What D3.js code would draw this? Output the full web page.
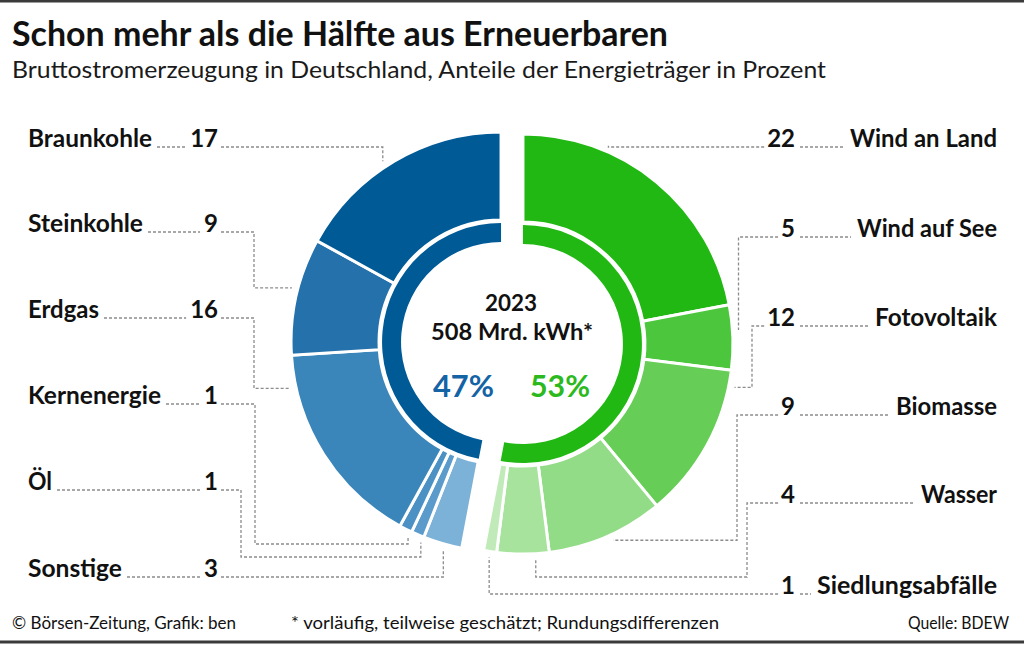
<!DOCTYPE html>
<html><head><meta charset="utf-8">
<script src="https://cdn.jsdelivr.net/npm/d3@7"></script>
<style>
body{margin:0;background:#fff}
svg{display:block}
text{font-family:Lato,"Open Sans",sans-serif;fill:#111}
</style>
</head><body>
<svg id="chart" width="1024" height="646"></svg>
<script>
// ---------------- DATA ----------------
const renewCategories = ["Wind an Land","Wind auf See","Fotovoltaik","Biomasse","Wasser","Siedlungsabfälle"];
const renewValues     = [22, 5, 12, 9, 4, 1];
const fossilCategories = ["Braunkohle","Steinkohle","Erdgas","Kernenergie","Öl","Sonstige"];
const fossilValues     = [17, 9, 16, 1, 1, 3];
const groupLabels = ["53%", "47%"];          // renewables, fossil
const groupShares = [53, 47];
const centerLines = ["2023", "508 Mrd. kWh*"];
const titleText = "Schon mehr als die Hälfte aus Erneuerbaren";
const subtitleText = "Bruttostromerzeugung in Deutschland, Anteile der Energieträger in Prozent";
const footerTexts = ["© Börsen-Zeitung, Grafik: ben", "* vorläufig, teilweise geschätzt; Rundungsdifferenzen", "Quelle: BDEW"];

// ---------------- STYLE / LAYOUT ----------------
const renewColors  = ["#22b814","#4cc63d","#66cd57","#92dc87","#a8e39e","#c0eab7"];
const fossilColors = ["#005a96","#2471ab","#3a86ba","#4b91c4","#5b9bcb","#7db2d8"];
const groupRingColors = ["#22b814","#005a96"];
const groupTextColors = ["#2cb91d","#1463a5"];

const cx = 512, cy = 343, explode = 11;
const rOuter = 210, rOuterIn = 122, rRingOut = 119, rRingIn = 100, rAnchor = 216;

// rows (baselines) and leader routing, top to bottom
const leftRowsY  = [147, 232, 318, 404, 490, 577];
const rightRowsY = [147, 237, 326, 415, 503, 594];
const leftNameW  = [124, 115, 71, 133, 24, 94];
const rightNameW = [147, 140, 122, 101, 76, 180];
// anchor angle (deg), turnX (null = anchor x), elbowY (null = anchor y)
const fossilLeaders = [
  {a:326.8, tx:null, ey:null},
  {a:284.5, tx:254,  ey:null},
  {a:257.6, tx:254,  ey:null},
  {a:205.5, tx:255,  ey:544},
  {a:201.8, tx:241,  ey:557},
  {a:195.5, tx:null, ey:null}
];
const renewLeaders = [
  {a:23.3,  tx:null, ey:null},
  {a:86.3,  tx:null, ey:null},
  {a:101.6, tx:752,  ey:null},
  {a:155.3, tx:737,  ey:null},
  {a:176.6, tx:747,  ey:577},
  {a:189.0, tx:null, ey:null}
];

const svg = d3.select("#chart");

// borders
svg.append("rect").attr("x",0).attr("y",0).attr("width",1024).attr("height",2.5).attr("fill","#3a3a3a");
svg.append("rect").attr("x",0).attr("y",640.5).attr("width",1024).attr("height",3).attr("fill","#3a3a3a");

function fit(sel, w){ sel.attr("textLength", w).attr("lengthAdjust","spacingAndGlyphs"); return sel; }

// titles
fit(svg.append("text").attr("x",12).attr("y",46).attr("font-size",34).attr("font-weight",700).text(titleText), 656);
fit(svg.append("text").attr("x",12).attr("y",78).attr("font-size",22.5).text(subtitleText).style("fill","#1a1a1a"), 814);

// footer
fit(svg.append("text").attr("x",12).attr("y",629).attr("font-size",17.5).text(footerTexts[0]), 224);
fit(svg.append("text").attr("x",291).attr("y",629).attr("font-size",17.5).text(footerTexts[1]), 428);
fit(svg.append("text").attr("x",908).attr("y",629).attr("font-size",17.5).text(footerTexts[2]), 101);

// ---------------- PIES ----------------
const groupPie = d3.pie().sort(null).value(d => d)(groupShares);
const centers = groupPie.map(g => {
  const m = (g.startAngle + g.endAngle) / 2;
  return {x: cx + explode * Math.sin(m), y: cy - explode * Math.cos(m)};
});

const segData = renewValues.map((v,i)=>({group:0, name:renewCategories[i], value:v, color:renewColors[i], leader:renewLeaders[i], row:i}))
  .concat(fossilValues.map((v,i)=>({group:1, name:fossilCategories[i], value:v, color:fossilColors[i], leader:fossilLeaders[i], row:i})).reverse());

const segPie = d3.pie().sort(null).value(d => d.value)(segData);

const arcOuter = d3.arc().innerRadius(rOuterIn).outerRadius(rOuter);
const arcRing  = d3.arc().innerRadius(rRingIn).outerRadius(rRingOut);

const gArcs = svg.append("g");
gArcs.selectAll("path.seg").data(segPie).join("path")
  .attr("class","seg")
  .attr("transform", d => `translate(${centers[d.data.group].x},${centers[d.data.group].y})`)
  .attr("d", arcOuter)
  .attr("fill", d => d.data.color)
  .attr("stroke","#fff").attr("stroke-width",3).attr("stroke-linejoin","miter");

gArcs.selectAll("path.ring").data(groupPie).join("path")
  .attr("class","ring")
  .attr("transform", (d,i) => `translate(${centers[i].x},${centers[i].y})`)
  .attr("d", arcRing)
  .attr("fill", (d,i) => groupRingColors[i]);

// center texts
fit(svg.append("text").attr("x",485).attr("y",311).attr("font-size",23).attr("font-weight",700).text(centerLines[0]), 52);
fit(svg.append("text").attr("x",431).attr("y",340).attr("font-size",23).attr("font-weight",700).text(centerLines[1]), 162);
fit(svg.append("text").attr("x",433).attr("y",397).attr("font-size",30).attr("font-weight",700).style("fill",groupTextColors[1]).text(groupLabels[1]), 61);
fit(svg.append("text").attr("x",530).attr("y",397).attr("font-size",30).attr("font-weight",700).style("fill",groupTextColors[0]).text(groupLabels[0]), 60);

// ---------------- LABELS & LEADERS ----------------
const gLead = svg.append("g").attr("fill","none").attr("stroke","#8c8c8c").attr("stroke-width",1.3).attr("stroke-dasharray","3,2");
const line = d3.line();

segData.forEach(d => {
  const left = d.group === 1;
  const y = left ? leftRowsY[d.row] : rightRowsY[d.row];
  const c = centers[d.group];
  const ang = d.leader.a * Math.PI / 180;
  const p = [c.x + rAnchor * Math.sin(ang), c.y - rAnchor * Math.cos(ang)];
  const tx = d.leader.tx == null ? p[0] : d.leader.tx;
  const ey = d.leader.ey == null ? p[1] : d.leader.ey;

  // name
  const nameW = left ? leftNameW[d.row] : rightNameW[d.row];
  const nameX = left ? 28 : 997 - nameW;
  fit(svg.append("text").attr("x", nameX).attr("y", y).attr("font-size",24).attr("font-weight",700).text(d.name), nameW);

  // number
  const numX = left ? 218 : 795;
  const num = svg.append("text").attr("x", numX).attr("y", y).attr("text-anchor","end")
    .attr("font-size",24).attr("font-weight",700).text(d.value);
  const numW = num.node().getComputedTextLength();

  if (left) {
    gLead.append("path").attr("d", line([[nameX + nameW + 5, y], [numX - numW - 4, y]]));
    gLead.append("path").attr("d", line([[numX + 3, y], [tx, y], [tx, ey], [p[0], ey], p]));
  } else {
    gLead.append("path").attr("d", line([[numX + 5, y], [nameX - 6, y]]));
    gLead.append("path").attr("d", line([[numX - numW - 3, y], [tx, y], [tx, ey], [p[0], ey], p]));
  }
});
</script>
</body></html>
